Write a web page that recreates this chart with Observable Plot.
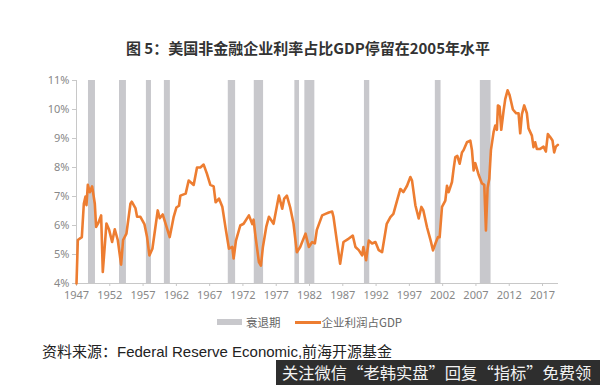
<!DOCTYPE html>
<html><head><meta charset="utf-8">
<script src="https://cdn.jsdelivr.net/npm/d3@7"></script>
<script src="https://cdn.jsdelivr.net/npm/@observablehq/plot@0.6"></script>
<style>
body{margin:0;width:600px;height:385px;overflow:hidden;background:#fff;position:relative;font-family:"Noto Sans CJK SC",sans-serif;}
#title{position:absolute;left:0;top:39px;width:616px;text-align:center;font-weight:bold;font-size:15px;line-height:18px;color:#333;white-space:nowrap;}
#chart{position:absolute;left:0;top:70px;}
#legend{position:absolute;top:314px;left:217px;display:flex;align-items:center;font-size:11.5px;line-height:16px;color:#666;white-space:nowrap;}
#legend .sw1{display:inline-block;width:25px;height:6px;background:#c8c8cc;margin-right:4px;}
#legend .sw2{display:inline-block;width:26px;height:3px;background:#ED7D31;margin-left:14px;margin-right:1px;}
#source{position:absolute;left:42px;top:343px;font-size:15px;line-height:18px;color:#222;font-family:"Liberation Sans","Noto Sans CJK SC",sans-serif;white-space:nowrap;}
#wm{position:absolute;left:276px;top:360px;width:324px;height:25px;background:#2e2e2e;color:#f2f2f2;font-size:16.3px;line-height:25px;white-space:nowrap;overflow:hidden;padding-left:6px;box-sizing:border-box;}
</style>
</head><body>
<div id="title">图 5：美国非金融企业利率占比GDP停留在2005年水平</div>
<div id="chart"></div>
<div id="legend"><span class="sw1"></span>衰退期<span class="sw2"></span>企业利润占GDP</div>
<div id="source">资料来源：Federal Reserve Economic,前海开源基金</div>
<div id="wm">关注微信“老韩实盘”回复“指标”免费领</div>
<script>
const years = [1947.0,1947.2,1947.8,1948.1,1948.35,1948.5,1948.7,1949.0,1949.35,1949.75,1949.95,1950.3,1950.7,1950.95,1951.5,1951.9,1952.35,1952.75,1953.2,1953.7,1954.0,1954.5,1955.1,1955.3,1955.85,1956.1,1956.6,1957.2,1957.6,1957.95,1958.4,1958.85,1959.2,1959.5,1959.95,1960.4,1961.0,1961.3,1961.6,1962.0,1962.4,1962.6,1963.4,1963.85,1964.6,1965.1,1965.6,1966.1,1966.6,1967.1,1967.6,1967.9,1968.4,1968.9,1969.4,1969.9,1970.4,1970.6,1970.95,1971.6,1972.1,1972.9,1973.4,1973.6,1973.9,1974.4,1974.7,1975.0,1975.5,1975.9,1976.6,1977.4,1977.9,1978.2,1978.6,1979.1,1979.6,1980.1,1980.6,1981.4,1981.9,1982.4,1982.8,1983.1,1983.9,1984.4,1984.9,1985.4,1985.6,1986.1,1986.6,1987.1,1987.9,1988.5,1988.9,1989.4,1989.9,1990.1,1990.5,1990.9,1991.4,1991.9,1992.4,1992.9,1993.6,1994.15,1994.6,1995.15,1995.65,1996.1,1996.65,1997.15,1997.4,1997.9,1998.4,1998.8,1999.1,1999.65,2000.2,2000.55,2000.9,2001.3,2001.55,2001.9,2002.4,2002.65,2002.9,2003.4,2003.65,2003.9,2004.2,2004.55,2004.9,2005.15,2005.65,2006.15,2006.4,2006.65,2006.9,2007.4,2007.9,2008.25,2008.5,2008.75,2009.0,2009.25,2009.65,2009.9,2010.15,2010.3,2010.55,2010.8,2011.15,2011.4,2011.75,2012.05,2012.55,2013.05,2013.4,2013.65,2013.9,2014.25,2014.65,2014.9,2015.4,2015.65,2015.9,2016.15,2016.65,2017.15,2017.5,2017.8,2018.15,2018.5,2018.75,2019.0,2019.3];
const profitShare = [4.0,5.5,5.6,6.75,7.0,6.7,7.4,7.15,7.35,6.75,5.95,6.1,6.35,4.4,6.07,5.85,5.43,5.87,5.5,4.65,5.5,5.72,6.75,6.82,6.6,6.3,6.3,6.05,5.6,4.97,5.2,5.94,6.52,6.25,6.38,6.05,5.6,5.95,6.3,6.62,6.68,7.03,7.1,7.55,7.4,8.0,8.0,8.1,7.78,7.4,7.35,6.8,6.93,6.65,5.9,5.2,5.26,4.86,5.48,6.0,6.06,6.35,6.05,6.2,5.6,4.74,4.62,5.26,5.95,6.3,6.06,7.03,6.58,6.93,7.03,6.62,6.06,5.08,5.26,5.72,5.26,5.43,5.38,5.85,6.35,6.4,6.45,6.48,6.3,5.48,4.68,5.43,5.55,5.65,5.26,5.15,4.97,5.26,4.8,5.48,5.38,5.43,5.15,5.08,6.06,6.29,6.4,6.86,7.26,7.15,7.37,7.67,7.55,6.7,6.24,6.64,6.52,5.94,5.48,5.14,5.37,5.6,5.6,6.64,6.86,7.37,7.15,7.5,7.96,8.36,8.4,8.13,8.52,8.6,8.87,8.93,8.6,7.9,8.15,7.75,7.45,7.4,5.83,7.3,7.6,8.6,9.22,9.45,9.3,10.14,10.1,9.3,9.95,10.36,10.66,10.5,10.0,9.87,9.87,9.18,9.83,10.14,9.87,9.35,9.1,8.7,8.87,8.64,8.64,8.72,8.55,9.15,9.05,8.93,8.52,8.72,8.78];
const recessionStart = [1948.8,1953.46,1957.5,1960.2,1969.8,1973.7,1979.8,1981.3,1990.25,2000.9,2007.66];
const recessionEnd   = [1949.85,1954.5,1958.26,1961.1,1970.9,1975.1,1980.5,1982.8,1991.05,2001.76,2009.27];
const xTicks = [1947,1952,1957,1962,1967,1972,1977,1982,1987,1992,1997,2002,2007,2012,2017];
const yTicks = [4,5,6,7,8,9,10,11];

const series = years.map((y,i)=>({year:y, value:profitShare[i]}));
const recessions = recessionStart.map((s,i)=>({start:s, end:recessionEnd[i]}));

const chart = Plot.plot({
  width:600, height:238,
  marginTop:10, marginBottom:25, marginLeft:76, marginRight:42,
  style:{fontFamily:"'Noto Sans', sans-serif", fontSize:"11px", background:"transparent"},
  x:{domain:[1947,2019.4]},
  y:{domain:[4,11]},
  marks:[
    Plot.rect(recessions,{x1:"start", x2:"end", fill:"#c8c8cc"}),
    Plot.ruleY([4],{stroke:"#c8c8c8"}),
    Plot.ruleX([1947],{stroke:"#c8c8c8"}),
    Plot.axisX({ticks:xTicks, tickFormat:d=>String(d), tickSize:3, stroke:"#c8c8c8", color:"#888", fontSize:11, label:null, tickPadding:5}),
    Plot.axisY({ticks:yTicks, tickFormat:d=>d+"%", tickSize:4, stroke:"#c8c8c8", color:"#888", fontSize:11, label:null, tickPadding:3}),
    Plot.line(series,{x:"year", y:"value", stroke:"#ED7D31", strokeWidth:2.6, strokeLinejoin:"round"})
  ]
});
document.getElementById("chart").appendChild(chart);
</script>
</body></html>
